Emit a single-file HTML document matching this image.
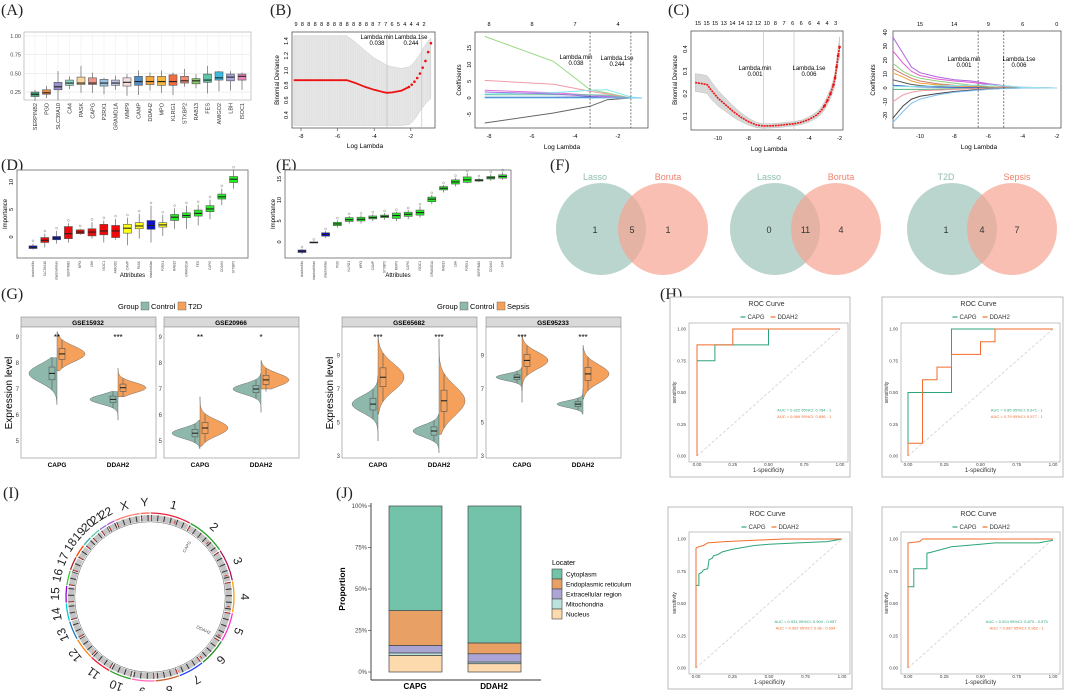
<!DOCTYPE html>
<html><head><meta charset="utf-8">
<style>
html,body{margin:0;padding:0;background:#fff;}
svg{display:block;font-family:"Liberation Sans",sans-serif;}
.pl{font-family:"Liberation Serif",serif;font-size:16px;fill:#222;}
</style></head>
<body>
<svg id="fig" width="1065" height="691" viewBox="0 0 1065 691" xmlns="http://www.w3.org/2000/svg">
<text class="pl" x="1" y="15">(A)</text>
<text class="pl" x="270" y="15">(B)</text>
<text class="pl" x="668" y="15">(C)</text>
<text class="pl" x="1" y="170">(D)</text>
<text class="pl" x="276" y="170">(E)</text>
<text class="pl" x="550" y="170">(F)</text>
<text class="pl" x="1" y="299">(G)</text>
<text class="pl" x="660" y="299">(H)</text>
<text class="pl" x="3" y="498">(I)</text>
<text class="pl" x="336" y="498">(J)</text>
<g id="root"></g>
</svg>
<script>
// ---------- DATA ----------
const aGenes=["SERPINB2","PGD","SLC39A10","CA4","PASK","CAPG","P2RX1","GRAMD1A","MMP9","CAMP","DDAH2","MPO","KLRG1","STXBP2","RAB13","FES","AMIGO2","LBH","ISOC1"];
const aMed=[0.22,0.24,0.32,0.37,0.37,0.37,0.37,0.37,0.38,0.39,0.39,0.39,0.39,0.40,0.40,0.41,0.44,0.45,0.46];
const aQ1=[0.19,0.22,0.28,0.34,0.35,0.35,0.33,0.34,0.33,0.34,0.35,0.34,0.34,0.37,0.36,0.38,0.41,0.40,0.41];
const aQ3=[0.25,0.28,0.38,0.41,0.45,0.44,0.42,0.41,0.44,0.46,0.46,0.46,0.48,0.46,0.43,0.49,0.52,0.49,0.49];
const aLo=[0.13,0.17,0.14,0.29,0.24,0.24,0.22,0.28,0.2,0.21,0.27,0.24,0.21,0.32,0.3,0.23,0.26,0.27,0.28];
const aHi=[0.28,0.33,0.53,0.46,0.6,0.51,0.44,0.47,0.49,0.54,0.51,0.54,0.51,0.56,0.49,0.6,0.53,0.53,0.51];
const aCol=["#4aa57f","#ee8a3a","#9b8fcf","#8fd6c4","#fdd49c","#f49488","#9cc4e2","#c3c2e4","#f6dede","#4f8fc9","#f5a43a","#f3b640","#f06c3e","#ef8a76","#8cc665","#5ec5a8","#3bbbe0","#a8a5dc","#e888b8"];

const b1Lam=[-8.4,-7.5,-6.5,-5.5,-5,-4.5,-4,-3.5,-3.3,-3,-2.5,-2.1,-1.95,-1.8,-1.65,-1.5,-1.35,-1.2,-1.05,-0.9];
const b1Dev=[0.87,0.87,0.87,0.87,0.83,0.78,0.74,0.71,0.70,0.705,0.73,0.78,0.81,0.85,0.90,0.96,1.04,1.13,1.25,1.37];
const b1Up=[1.47,1.47,1.47,1.47,1.38,1.27,1.17,1.1,1.07,1.05,1.03,1.05,1.08,1.12,1.17,1.22,1.29,1.35,1.40,1.44];
const b1Lo=[0.26,0.26,0.26,0.26,0.26,0.26,0.26,0.26,0.26,0.26,0.26,0.27,0.30,0.34,0.39,0.45,0.50,0.55,0.59,0.62];
const b1Top=["9","8","8","8","8","8","8","8","8","8","8","8","8","7","7","6","5","4","4","4","2"];

const b2Lam=[-8.2,-5,-3.3,-2.5,-1.4,-0.9];
const b2Vals=[[18.5,11,2.5,1.5,0,0],[5.3,4.1,2.0,1.2,0,0],[2.3,1.6,0.9,0.5,0,0],[1.2,1.6,2.3,2.5,0.3,0],[1.0,1.0,1.0,0.8,0,0],[0.2,0.2,0.3,0.2,0,0],[1.8,1.2,0.5,0.3,0,0],[-7.5,-4.5,-2.5,-0.5,0,0],[0,0,0,0,0,0]];
const b2Col=["#96d882","#f29aa8","#e070d8","#80e8e8","#6ac6a8","#3060c0","#a070e0","#666666","#80c8f0"];
const b2Top=["8","8","7","4"];

const c1Lam=[-11.5,-11,-10.7,-10.5,-10,-9.5,-9,-8.5,-8,-7.5,-7,-6.5,-6,-5.5,-5,-4.5,-4,-3.5,-3.2,-3,-2.8,-2.6,-2.4,-2.3,-2.2,-2.1,-2];
const c1Dev=[0.25,0.245,0.24,0.22,0.18,0.15,0.12,0.095,0.075,0.06,0.055,0.056,0.058,0.062,0.065,0.072,0.085,0.105,0.125,0.145,0.17,0.2,0.24,0.27,0.32,0.37,0.41];
const c1Err=[0.04,0.04,0.04,0.04,0.035,0.03,0.025,0.02,0.016,0.012,0.01,0.01,0.01,0.01,0.01,0.01,0.012,0.014,0.016,0.018,0.02,0.022,0.025,0.028,0.03,0.035,0.045];
const c1Top=["15","15","15","13","14","14","12","12","10","8","7","6","6","6","4","4","3"];

const c2Lam=[-11.6,-11,-10.5,-10,-9,-8,-7,-6,-5,-4,-2];
const c2Vals=[[37,25,15,11,8,6,5,3,1.5,0.5,0],[27,18,12,9,6.5,5,4,2.5,1,0.3,0],[18,12,9,7,5,3.5,2,1,0.4,0.1,0],[14,10,7,5,3,2,1.2,0.5,0.2,0,0],[11,8,5,3.5,2.3,1.5,0.8,0.3,0,0,0],[6,4,2.5,1.8,1,0.5,0.2,0,0,0,0],[2,1.5,1,0.8,0.6,0.4,0.3,0.1,0,0,0],[-1,-1,-1,-1,-0.8,-0.6,-0.4,-0.2,0,0,0],[-10,-5,-3,-2,-1.5,-1,-0.6,-0.3,0,0,0],[-22,-13,-8,-6,-4,-2.5,-1.5,-0.7,-0.2,0,0],[-25,-17,-11,-8,-5,-3,-2,-1,-0.3,0,0],[1,1,1,1.2,1.5,1.8,2,2.2,1.5,0.5,0]];
const c2Col=["#b060e0","#e060d0","#90d080","#c8806a","#f0a040","#555555","#4070d0","#50b070","#f098a0","#444444","#80c0f0","#90e8e8"];
const c2Top=["15","14","9","6","0"];

const dMed=[-1.9,-0.6,-0.2,0.6,0.9,0.9,1.1,1.1,1.6,2.0,2.1,2.2,3.6,3.9,4.3,5.1,7.3,10.5];
const dQ1=[-2.1,-1.0,-0.5,-0.3,0.6,0.2,0.4,-0.1,0.7,1.5,1.4,1.8,3.0,3.5,3.8,4.6,6.9,9.9];
const dQ3=[-1.6,-0.1,0.1,1.9,1.3,1.5,2.3,2.1,2.3,2.6,3.0,2.6,4.1,4.4,4.9,5.7,7.8,11.0];
const dLo=[-2.3,-1.9,-1.2,-1.0,0.4,-0.3,-1.0,-0.5,-1.5,-0.3,-1.0,0.2,1.5,1.5,2.1,3.2,5.8,8.8];
const dHi=[-1.2,0.6,1.1,2.5,1.5,2.7,3.0,3.3,3.5,4.2,5.7,4.0,5.2,5.7,5.9,6.8,8.8,12.2];
const dCol=["#0a10d0","#ee0a0a","#0a10d0","#ee0a0a","#ee0a0a","#ee0a0a","#ee0a0a","#ee0a0a","#ffff1a","#ffff1a","#0a10d0","#ffff1a","#22ee22","#22ee22","#22ee22","#22ee22","#22ee22","#22ee22"];
const dNames=["shadowMin","SLC39A10","shadowMean","SERPINB2","MPO","LBH","ISOC1","AMIGO2","CAMP","PASK","shadowMax","P2RX1","RAB13","GRAMD1A","FES","CAPG","DDAH2","STXBP2"];

const eMed=[-2.2,-0.1,1.8,4.3,5.3,5.4,5.8,6.1,6.3,6.6,7.0,10.2,12.8,14.3,14.8,14.7,15.3,15.6];
const eQ1=[-2.5,-0.2,1.4,3.9,4.9,5.0,5.5,5.8,5.6,6.1,6.4,9.6,12.4,13.8,14.2,14.5,15.0,15.2];
const eQ3=[-1.9,0.0,2.2,4.7,5.8,5.9,6.2,6.4,6.9,7.1,7.6,10.7,13.2,14.8,15.5,14.9,15.6,16.0];
const eLo=[-2.9,-0.3,1.0,3.4,4.4,4.4,5.0,5.3,5.0,5.4,5.8,9.0,11.8,13.2,14.0,14.3,14.6,14.8];
const eHi=[-1.7,0.1,2.6,5.2,6.2,6.3,6.6,6.9,7.2,7.6,8.5,11.2,13.6,15.3,16.4,15.2,16.2,16.6];
const eCol=["#0a10d0","#000000","#0a10d0","#22ee22","#22ee22","#22ee22","#22ee22","#22ee22","#22ee22","#22ee22","#22ee22","#22ee22","#22ee22","#22ee22","#22ee22","#22ee22","#22ee22","#22ee22"];
const eNames=["shadowMin","shadowMean","shadowMax","PGD","KLRG1","MPO","CAMP","STXBP2","MMP9","CAPG","ISOC1","GRAMD1A","RAB13","LBH","P2RX1","SERPINB2","DDAH2","CA4"];

const fSets=[["Lasso","Boruta"],["Lasso","Boruta"],["T2D","Sepsis"]];
const fLeft=[1,0,1];
const fBoth=[5,11,4];
const fRight=[1,4,7];

const gFacets=["GSE15932","GSE20966","GSE65682","GSE95233"];
const gGenes=["CAPG","DDAH2"];
const gStars=[["**","***"],["**","*"],["***","***"],["***","***"]];
const gCtrlMed=[7.6,6.6,5.3,7.0,6.1,4.5,7.7,6.1];
const gCtrlLo=[6.4,5.8,4.7,6.1,3.9,3.2,6.9,5.5];
const gCtrlHi=[8.2,6.9,5.8,7.6,7.8,5.5,8.3,7.0];
const gCtrlSd=[0.35,0.18,0.2,0.2,0.5,0.35,0.2,0.2];
const gCaseMed=[8.35,7.05,5.5,7.35,7.7,6.3,8.7,7.9];
const gCaseLo=[7.7,6.7,4.8,7.0,5.5,4.3,6.2,6.4];
const gCaseHi=[9.2,7.8,6.7,8.1,10.1,10.0,10.2,9.6];
const gCaseSd=[0.3,0.2,0.3,0.25,0.8,0.9,0.5,0.55];

const rocCapgF=[[0,0,0.125,0.125,0.5,0.5,1],[0,0,0.3,0.3,1],[0,0,0.02,0.02,0.04,0.05,0.08,0.09,0.11,0.12,0.15,0.18,0.25,0.3,0.4,0.5,0.7,0.9,1],[0,0,0.04,0.04,0.13,0.13,0.17,0.2,0.27,0.3,0.4,0.5,0.6,0.9,1]];
const rocCapgT=[[0,0.75,0.75,0.875,0.875,1,1],[0,0.5,0.5,1,1],[0,0.64,0.64,0.73,0.74,0.76,0.77,0.84,0.85,0.87,0.88,0.9,0.92,0.93,0.95,0.96,0.97,0.98,1],[0,0.63,0.63,0.77,0.77,0.89,0.9,0.91,0.93,0.94,0.95,0.96,0.97,0.97,0.99]];
const rocDdahF=[[0,0,0.25,0.25,1],[0,0,0.1,0.1,0.2,0.2,0.3,0.3,0.5,0.5,0.6,0.6,1],[0,0,0.02,0.05,0.08,0.2,0.4,0.6,1],[0,0,0.08,0.1,1]];
const rocDdahT=[[0,0.875,0.875,1,1],[0,0.1,0.1,0.6,0.6,0.7,0.7,0.8,0.8,0.9,0.9,1,1],[0,0.93,0.94,0.95,0.97,0.98,0.99,1,1],[0,0.97,0.98,1,1]];
const rocAucCapg=["AUC = 0.922 95%CI: 0.784 - 1","AUC = 0.85 95%CI: 0.671 - 1","AUC = 0.931 95%CI: 0.904 - 0.957","AUC = 0.924 95%CI: 0.873 - 0.975"];
const rocAucDdah=["AUC = 0.969 95%CI: 0.896 - 1","AUC = 0.79 95%CI: 0.577 - 1","AUC = 0.987 95%CI: 0.98 - 0.994","AUC = 0.987 95%CI: 0.962 - 1"];

const jBars=["CAPG","DDAH2"];
const jCats=["Nucleus","Mitochondria","Extracellular region","Endoplasmic reticulum","Cytoplasm"];
const jCapg=[10,1.5,4.5,21,63];
const jDdah=[5,1,5,6.5,82.5];
const jCol=["#fdd9ae","#b9e3dc","#aba5d6","#e8a064","#72c3a9"];

const chrNames=["1","2","3","4","5","6","7","8","9","10","11","12","13","14","15","16","17","18","19","20","21","22","X","Y"];
const chrSize=[249,243,198,191,181,171,159,146,141,136,135,133,115,107,102,90,83,80,59,64,47,51,155,57];

// ---------- HELPERS ----------
const NS="http://www.w3.org/2000/svg";
const root=document.getElementById('root');
function mk(tag,at,par){const e=document.createElementNS(NS,tag);for(const k in at)e.setAttribute(k,at[k]);(par||root).appendChild(e);return e;}
function tx(x,y,s,at,par){const e=mk('text',Object.assign({x:x,y:y},at||{}),par);e.textContent=s;return e;}
function pts(xs,ys){return xs.map((v,i)=>v.toFixed(1)+','+ys[i].toFixed(1)).join(' ');}
function boxplot(cx,w,q1,med,q3,lo,hi,fill,ys,name){
  const g=mk('g',{});
  
  
  mk('line',{x1:cx,x2:cx,y1:ys(hi),y2:ys(lo),stroke:'#666','stroke-width':0.7},g);
  mk('rect',{x:cx-w/2,y:ys(q3),width:w,height:Math.max(1,ys(q1)-ys(q3)),fill:fill,stroke:'#555','stroke-width':0.6},g);
  mk('line',{x1:cx-w/2,x2:cx+w/2,y1:ys(med),y2:ys(med),stroke:'#222','stroke-width':1.1},g);
  return g;
}

// ---------- PANEL A ----------
(function(){
  const yA=v=>36+(1-v)*74.7;
  const xA=i=>35+i*11.5;
  const fr=mk('rect',{x:24,y:32,width:227,height:68,fill:'#fff',stroke:'#bbb','stroke-width':0.8});
  
  
  [1,0.75,0.5,0.25].forEach(v=>{mk('line',{x1:24,x2:251,y1:yA(v),y2:yA(v),stroke:'#e6e6e6','stroke-width':0.6});
    const t=tx(21,yA(v)+2,v.toFixed(2),{'font-size':5.5,'text-anchor':'end',fill:'#444'});
    
    });
  aGenes.forEach((g,i)=>{
    mk('line',{x1:xA(i),x2:xA(i),y1:32,y2:100,stroke:'#eeeeee','stroke-width':0.6});
    boxplot(xA(i),8,aQ1[i],aMed[i],aQ3[i],aLo[i],aHi[i],aCol[i],yA,'a-box-'+g.toLowerCase());
    const t=tx(0,0,g,{'font-size':5.5,'text-anchor':'end',fill:'#333',transform:`translate(${xA(i)+2},103) rotate(-90)`});
    
    
  });
})();

// ---------- PANEL B1 ----------
(function(){
  const X=l=>301+(l+8)*18.3, Y=v=>41+(1.4-v)*74;
  const fr=mk('rect',{x:292,y:32,width:143,height:96,fill:'#fff',stroke:'#555','stroke-width':0.8});
  
  
  const band=mk('polygon',{points:pts(b1Lam.map(X).concat(b1Lam.map(X).reverse()),b1Up.map(Y).concat(b1Lo.map(Y).reverse())),fill:'#e2e2e2',stroke:'#c8c8c8','stroke-width':0.5});
  
  
  for(let x=297;x<432;x+=2.2) mk('line',{x1:x,x2:x,y1:36,y2:124,stroke:'#fff','stroke-width':0.5,opacity:0.35});
  mk('line',{x1:X(-3.3),x2:X(-3.3),y1:32,y2:128,stroke:'#bbb','stroke-width':0.6});
  mk('line',{x1:X(-1.4),x2:X(-1.4),y1:32,y2:128,stroke:'#bbb','stroke-width':0.6});
  const ln=mk('polyline',{points:pts(b1Lam.slice(0,12).map(X),b1Dev.slice(0,12).map(Y)),fill:'none',stroke:'#ee1111','stroke-width':1.8});
  
  
  b1Lam.forEach((l,i)=>{if(l>-2.2){const c=mk('circle',{cx:X(l),cy:Y(b1Dev[i]),r:1.3,fill:'#ee1111'});
    
    }});
  tx(377,39,'Lambda.min',{'font-size':6,'text-anchor':'middle'});tx(377,45,'0.038',{'font-size':6,'text-anchor':'middle'});
  tx(411,39,'Lambda.1se',{'font-size':6,'text-anchor':'middle'});tx(411,45,'0.244',{'font-size':6,'text-anchor':'middle'});
  b1Top.forEach((s,i)=>tx(296+i*6.4,26,s,{'font-size':5.5,'text-anchor':'middle'}));
  [-8,-6,-4,-2].forEach(v=>{mk('line',{x1:X(v),x2:X(v),y1:128,y2:131,stroke:'#444','stroke-width':0.6});tx(X(v),138,String(v),{'font-size':5.5,'text-anchor':'middle'});});
  [0.4,0.6,0.8,1.0,1.2,1.4].forEach(v=>tx(0,0,v.toFixed(1),{'font-size':5.5,'text-anchor':'middle',transform:`translate(288,${Y(v)}) rotate(-90)`}));
  tx(365,148,'Log Lambda',{'font-size':6.5,'text-anchor':'middle'});
  tx(0,0,'Binomial Deviance',{'font-size':6,'text-anchor':'middle',transform:'translate(279,80) rotate(-90)'});
})();

// ---------- PANEL B2 ----------
(function(){
  const X=l=>489+(l+8)*21.5, Y=v=>98-v*3.33;
  const fr=mk('rect',{x:475,y:32,width:173,height:96,fill:'#fff',stroke:'#555','stroke-width':0.8});
  
  
  b2Vals.forEach((s,i)=>{const p=mk('polyline',{points:pts(b2Lam.map(X),s.map(Y)),fill:'none',stroke:b2Col[i],'stroke-width':1});
    
    });
  [-3.3,-1.4].forEach(l=>mk('line',{x1:X(l),x2:X(l),y1:32,y2:128,stroke:'#444','stroke-width':0.7,'stroke-dasharray':'2,1.5'}));
  tx(576,59,'Lambda.min',{'font-size':6,'text-anchor':'middle'});tx(576,65,'0.038',{'font-size':6,'text-anchor':'middle'});
  tx(617,60,'Lambda.1se',{'font-size':6,'text-anchor':'middle'});tx(617,66,'0.244',{'font-size':6,'text-anchor':'middle'});
  b2Top.forEach((s,i)=>tx(X(-8+2*i),26,s,{'font-size':5.5,'text-anchor':'middle'}));
  [-8,-6,-4,-2].forEach(v=>tx(X(v),138,String(v),{'font-size':5.5,'text-anchor':'middle'}));
  [15,10,5,0,-5].forEach(v=>tx(0,0,String(v),{'font-size':5.5,'text-anchor':'middle',transform:`translate(471,${Y(v)}) rotate(-90)`}));
  tx(562,149,'Log Lambda',{'font-size':6.5,'text-anchor':'middle'});
  tx(0,0,'Coefficients',{'font-size':6,'text-anchor':'middle',transform:'translate(461,80) rotate(-90)'});
})();

// ---------- PANEL C1 ----------
(function(){
  const X=l=>718+(l+10)*15.2, Y=v=>116-(v-0.1)*223;
  const fr=mk('rect',{x:691,y:31,width:152,height:99,fill:'#fff',stroke:'#555','stroke-width':0.8});
  
  
  const band=mk('polygon',{points:pts(c1Lam.map(X).concat(c1Lam.map(X).reverse()),c1Dev.map((d,i)=>Y(d+c1Err[i])).concat(c1Dev.map((d,i)=>Y(d-c1Err[i])).reverse())),fill:'#d8d8d8',stroke:'#c0c0c0','stroke-width':0.5});
  
  
  [-7,-5].forEach(l=>mk('line',{x1:X(l),x2:X(l),y1:31,y2:130,stroke:'#bbb','stroke-width':0.6}));
  const ln=mk('polyline',{points:pts(c1Lam.map(X),c1Dev.map(Y)),fill:'none',stroke:'#ee1111','stroke-width':1.6,'stroke-dasharray':'2,0.8'});
  
  
  c1Lam.forEach((l,i)=>{if(l>-3.2){const c=mk('circle',{cx:X(l),cy:Y(c1Dev[i]),r:1.3,fill:'#ee1111'});
    
    }});
  tx(755,70,'Lambda.min',{'font-size':6,'text-anchor':'middle'});tx(755,76,'0.001',{'font-size':6,'text-anchor':'middle'});
  tx(809,70,'Lambda.1se',{'font-size':6,'text-anchor':'middle'});tx(809,76,'0.006',{'font-size':6,'text-anchor':'middle'});
  c1Top.forEach((s,i)=>tx(698+i*8.6,25,s,{'font-size':5.5,'text-anchor':'middle'}));
  [-10,-8,-6,-4,-2].forEach(v=>tx(X(v),140,String(v),{'font-size':5.5,'text-anchor':'middle'}));
  [0.1,0.2,0.3,0.4].forEach(v=>tx(0,0,v.toFixed(1),{'font-size':5.5,'text-anchor':'middle',transform:`translate(687,${Y(v)}) rotate(-90)`}));
  tx(769,151,'Log Lambda',{'font-size':6.5,'text-anchor':'middle'});
  tx(0,0,'Binomial Deviance',{'font-size':6,'text-anchor':'middle',transform:'translate(677,80) rotate(-90)'});
})();

// ---------- PANEL C2 ----------
(function(){
  const X=l=>920+(l+10)*17.1, Y=v=>88-v*1.39;
  const fr=mk('rect',{x:893,y:31,width:168,height:97,fill:'#fff',stroke:'#555','stroke-width':0.8});
  
  
  c2Vals.forEach((s,i)=>{const p=mk('polyline',{points:pts(c2Lam.map(X),s.map(Y)),fill:'none',stroke:c2Col[i],'stroke-width':1});
    
    });
  [-6.6,-5.1].forEach(l=>mk('line',{x1:X(l),x2:X(l),y1:31,y2:128,stroke:'#444','stroke-width':0.7,'stroke-dasharray':'2,1.5'}));
  tx(964,61,'Lambda.min',{'font-size':6,'text-anchor':'middle'});tx(964,67,'0.001',{'font-size':6,'text-anchor':'middle'});
  tx(1019,61,'Lambda.1se',{'font-size':6,'text-anchor':'middle'});tx(1019,67,'0.006',{'font-size':6,'text-anchor':'middle'});
  c2Top.forEach((s,i)=>tx(X(-10+2*i),26,s,{'font-size':5.5,'text-anchor':'middle'}));
  [-10,-8,-6,-4,-2].forEach(v=>tx(X(v),138,String(v),{'font-size':5.5,'text-anchor':'middle'}));
  [40,30,20,10,0,-10,-20].forEach(v=>tx(0,0,String(v),{'font-size':5.5,'text-anchor':'middle',transform:`translate(887,${Y(v)}) rotate(-90)`}));
  tx(979,149,'Log Lambda',{'font-size':6.5,'text-anchor':'middle'});
  tx(0,0,'Coefficients',{'font-size':6,'text-anchor':'middle',transform:'translate(875,80) rotate(-90)'});
})();

// ---------- PANELS D/E ----------
function boruta(prefix,x0,w,ys,ticks,med,q1,q3,lo,hi,col,names,cx0){
  const fr=mk('rect',{x:x0,y:170,width:w,height:88,fill:'#fff',stroke:'#666','stroke-width':0.8});
  
  
  ticks.forEach(v=>tx(0,0,String(v),{'font-size':5.5,'text-anchor':'middle',transform:`translate(${x0-4},${ys(v)}) rotate(-90)`}));
  med.forEach((m,i)=>{const cx=cx0+i*11.8;
    boxplot(cx,8,q1[i],m,q3[i],lo[i],hi[i],col[i],ys,prefix+'-box-'+names[i].toLowerCase());
    mk('circle',{cx:cx,cy:ys(hi[i]+0.5),r:1,fill:'none',stroke:'#777','stroke-width':0.4});
    tx(0,0,names[i],{'font-size':3.2,'text-anchor':'end',fill:'#444',transform:`translate(${cx+1},261) rotate(-90)`});});
  tx(x0+w/2,277,'Attributes',{'font-size':6,'text-anchor':'middle'});
  tx(0,0,'Importance',{'font-size':6,'text-anchor':'middle',transform:`translate(${x0-10},214) rotate(-90)`});
}
boruta('d',17,231,v=>237-v*5.5,[0,5,10],dMed,dQ1,dQ3,dLo,dHi,dCol,dNames,33);
boruta('e',285,226,v=>242-v*4.2,[0,5,10,15],eMed,eQ1,eQ3,eLo,eHi,eCol,eNames,302);

// ---------- PANEL F ----------
(function(){
  const cxL=[601,775,952], cxR=[663,836,1012];
  fSets.forEach((s,i)=>{
    const l=cxL[i], r=cxR[i];
    const e1=mk('ellipse',{cx:l,cy:229,rx:45,ry:46,fill:'#a3c7be',opacity:0.75});
    
    
    const e2=mk('ellipse',{cx:r,cy:229,rx:45,ry:46,fill:'#f7a493',opacity:0.7});
    
    
    tx(l-6,180,s[0],{'font-size':9,'text-anchor':'middle',fill:'#8fbcb0'});
    tx(r+5,180,s[1],{'font-size':9,'text-anchor':'middle',fill:'#f07f6a'});
    tx(l-6,233,String(fLeft[i]),{'font-size':9,'text-anchor':'middle',fill:'#333'});
    tx((l+r)/2,233,String(fBoth[i]),{'font-size':9,'text-anchor':'middle',fill:'#333'});
    tx(r+5,233,String(fRight[i]),{'font-size':9,'text-anchor':'middle',fill:'#333'});
  });
})();

// ---------- PANEL G ----------
(function(){
  const yT=v=>389-(v-7)*26, yS=v=>389-(v-7)*16.8;
  const fx=[21,164,342,486];
  function legend(x,caseName){
    tx(x,309,'Group',{'font-size':7.5});
    mk('rect',{x:x+23,y:302,width:8,height:8,fill:'#8fb8ad',stroke:'#555','stroke-width':0.4});
    tx(x+33,309,'Control',{'font-size':7.5});
    mk('rect',{x:x+60,y:302,width:8,height:8,fill:'#f5a15b',stroke:'#555','stroke-width':0.4});
    tx(x+70,309,caseName,{'font-size':7.5});
  }
  legend(118,'T2D');legend(437,'Sepsis');
  function half(cx,side,med,lo,hi,sd,wmax,ys,fill){
    const L=[];
    const n=40;
    for(let k=0;k<=n;k++){const v=lo+(hi-lo)*k/n;const w=wmax*Math.exp(-(v-med)*(v-med)/(2*sd*sd));L.push([cx+side*w,ys(v)]);}
    const d='M'+cx+','+ys(lo)+' '+L.map(p=>'L'+p[0].toFixed(1)+','+p[1].toFixed(1)).join(' ')+' L'+cx+','+ys(hi)+' Z';
    return mk('path',{d:d,fill:fill,stroke:'#555','stroke-width':0.4});
  }
  gFacets.forEach((f,fi)=>{
    const x=fx[fi], ys=fi<2?yT:yS;
    const st=mk('rect',{x:x,y:317,width:135,height:10,fill:'#d9d9d9',stroke:'#777','stroke-width':0.5});
    
    
    tx(x+67,325,f,{'font-size':6.5,'text-anchor':'middle','font-weight':'bold'});
    const pf=mk('rect',{x:x,y:327,width:135,height:131,fill:'#fff',stroke:'#999','stroke-width':0.7});
    
    
    const ticks=fi<2?[5,6,7,8,9]:[3,5,7,9];
    ticks.forEach(v=>tx(x-2,ys(v)+2,String(v),{'font-size':6,'text-anchor':'end',fill:'#444'}));
    gGenes.forEach((g,gi)=>{
      const k=fi*2+gi, cx=x+36+gi*61;
      const wmax=fi<2?28:26;
      const v1=half(cx,-1,gCtrlMed[k],gCtrlLo[k],gCtrlHi[k],gCtrlSd[k],wmax,ys,'#8fb8ad');
      
      
      const v2=half(cx,1,gCaseMed[k],gCaseLo[k],gCaseHi[k],gCaseSd[k],wmax,ys,'#f5a15b');
      
      
      boxplot(cx-5,6,gCtrlMed[k]-gCtrlSd[k]*0.7,gCtrlMed[k],gCtrlMed[k]+gCtrlSd[k]*0.7,gCtrlMed[k]-gCtrlSd[k]*1.8,gCtrlMed[k]+gCtrlSd[k]*1.8,'#8fb8ad',ys,'box-control');
      boxplot(cx+5,6,gCaseMed[k]-gCaseSd[k]*0.7,gCaseMed[k],gCaseMed[k]+gCaseSd[k]*0.7,gCaseMed[k]-gCaseSd[k]*1.8,gCaseMed[k]+gCaseSd[k]*1.8,'#f5a15b',ys,'box-case');
      tx(cx,340,gStars[fi][gi],{'font-size':8,'text-anchor':'middle'});
      tx(cx,467,g,{'font-size':6.5,'text-anchor':'middle','font-weight':'bold'});
    });
  });
  tx(0,0,'Expression level',{'font-size':10,'text-anchor':'middle',transform:'translate(12,393) rotate(-90)'});
  tx(0,0,'Expression level',{'font-size':10,'text-anchor':'middle',transform:'translate(333,393) rotate(-90)'});
})();

// ---------- PANEL H ----------
(function(){
  const panels=[{bx:670,by:297,bw:180,bh:180,x0:697,x1:840,y1:329,y0:456,pl:689,pt:323,pr:848,pb:462},
                {bx:882,by:297,bw:181,bh:180,x0:908,x1:1053,y1:329,y0:456,pl:901,pt:323,pr:1060,pb:462},
                {bx:668,by:507,bw:184,bh:182,x0:696,x1:842,y1:539,y0:668,pl:689,pt:532,pr:850,pb:674},
                {bx:882,by:507,bw:181,bh:182,x0:908,x1:1053,y1:539,y0:668,pl:901,pt:532,pr:1060,pb:674}];
  panels.forEach((p,i)=>{
    const X=v=>p.x0+v*(p.x1-p.x0), Y=v=>p.y0-v*(p.y0-p.y1);
    const bx=mk('rect',{x:p.bx,y:p.by,width:p.bw,height:p.bh,fill:'#fff',stroke:'#bbb','stroke-width':1});
    
    
    mk('rect',{x:p.pl,y:p.pt,width:p.pr-p.pl,height:p.pb-p.pt,fill:'none',stroke:'#aaa','stroke-width':0.7});
    const cx=(p.pl+p.pr)/2;
    tx(cx-2,p.by+9,'ROC Curve',{'font-size':7,'text-anchor':'middle',fill:'#333'});
    mk('line',{x1:cx-28,x2:cx-23,y1:p.by+20,y2:p.by+20,stroke:'#2ca57a','stroke-width':1.2});
    tx(cx-21,p.by+22,'CAPG',{'font-size':6,fill:'#333'});
    mk('line',{x1:cx+2,x2:cx+7,y1:p.by+20,y2:p.by+20,stroke:'#f26d2d','stroke-width':1.2});
    tx(cx+9,p.by+22,'DDAH2',{'font-size':6,fill:'#333'});
    mk('line',{x1:X(0),y1:Y(0),x2:X(1),y2:Y(1),stroke:'#d0d0d0','stroke-width':0.8,'stroke-dasharray':'3,2'});
    [0,0.25,0.5,0.75,1].forEach(v=>{
      tx(p.pl-3,Y(v)+1.5,v.toFixed(2),{'font-size':4.5,'text-anchor':'end',fill:'#444'});
      tx(X(v),p.pb+4,v.toFixed(2),{'font-size':4.5,'text-anchor':'middle',fill:'#444'});});
    tx(cx,p.pb+10,'1-specificity',{'font-size':6,'text-anchor':'middle',fill:'#333'});
    tx(0,0,'sensitivity',{'font-size':5,'text-anchor':'middle',fill:'#333',transform:`translate(${p.pl-13},${(p.pt+p.pb)/2}) rotate(-90)`});
    const c1=mk('polyline',{points:pts(rocCapgF[i].map(X),rocCapgT[i].map(Y)),fill:'none',stroke:'#2ca57a','stroke-width':1});
    
    
    const c2=mk('polyline',{points:pts(rocDdahF[i].map(X),rocDdahT[i].map(Y)),fill:'none',stroke:'#f26d2d','stroke-width':1});
    
    
    tx(X(0.75),Y(0.35),rocAucCapg[i],{'font-size':4,'text-anchor':'middle',fill:'#2ca57a'});
    tx(X(0.75),Y(0.30),rocAucDdah[i],{'font-size':4,'text-anchor':'middle',fill:'#f26d2d'});
  });
})();

// ---------- PANEL I ----------
(function(){
  const cx=150, cy=597, rx=84, ry=84;
  const total=chrSize.reduce((a,b)=>a+b,0);
  const gap=0.012, avail=2*Math.PI-gap*chrSize.length;
  const arcCol=["#e8203a","#2ca02c","#b0105a","#ff9f00","#ff33cc","#228b22","#2040ff","#c86432","#ff69b4","#2ca02c","#e8203a","#ff7f0e","#1f77b4","#00ced1","#9400d3","#32cd32","#b22222","#ff4500","#20b2aa","#66cdaa","#9370db","#ba55d3","#fa8072","#ff6347"];
  let a=-Math.PI/2+0.01;
  const P=(ang,k)=>[cx+rx*k*Math.cos(ang),cy+ry*k*Math.sin(ang)];
  chrSize.forEach((s,i)=>{
    const da=avail*s/total;
    const a0=a,a1=a+da;
    const path=(k)=>{const p0=P(a0,k),p1=P(a1,k);return `M${p0[0].toFixed(1)},${p0[1].toFixed(1)} A${rx*k},${ry*k} 0 ${da>Math.PI?1:0} 1 ${p1[0].toFixed(1)},${p1[1].toFixed(1)}`;};
    const o=mk('path',{d:path(1.0),fill:'none',stroke:arcCol[i],'stroke-width':1.3});
    
    
    const b=mk('path',{d:path(0.94),fill:'none',stroke:'#c4c4c4','stroke-width':6});
    
    
    mk('path',{d:path(0.94),fill:'none',stroke:'#333','stroke-width':6,'stroke-dasharray':'1,5.5'});
    mk('path',{d:path(0.94),fill:'none',stroke:'#e03030','stroke-width':3,'stroke-dasharray':'1,23'});
    const mid=(a0+a1)/2, lp=P(mid,1.13);
    const lab=tx(lp[0],lp[1]+4,chrNames[i],{'font-size':12,'text-anchor':'middle',fill:'#222',transform:`rotate(${(mid*180/Math.PI+90).toFixed(1)},${lp[0].toFixed(1)},${lp[1].toFixed(1)})`});
    
    
    a=a1+gap;
  });
  mk('circle',{cx:cx,cy:cy,r:rx*0.895,fill:'none',stroke:'#555','stroke-width':0.5});
  tx(0,0,'CAPG',{'font-size':4.5,fill:'#555',transform:'translate(185,553) rotate(-60)'});
  tx(0,0,'DDAH2',{'font-size':4.5,fill:'#555',transform:'translate(196,628) rotate(25)'});
})();

// ---------- PANEL J ----------
(function(){
  const Y=p=>672-p*1.66;
  const bx=[389,468];
  mk('line',{x1:371,x2:371,y1:503,y2:680,stroke:'#333','stroke-width':0.9});
  mk('line',{x1:371,x2:541,y1:680,y2:680,stroke:'#333','stroke-width':0.9});
  [0,25,50,75,100].forEach(v=>{tx(367,Y(v)+2,v+'%',{'font-size':6,'text-anchor':'end',fill:'#444'});
    mk('line',{x1:368,x2:371,y1:Y(v),y2:Y(v),stroke:'#333','stroke-width':0.6});});
  [jCapg,jDdah].forEach((vals,b)=>{
    let acc=0;
    vals.forEach((v,k)=>{
      const r=mk('rect',{x:bx[b],y:Y(acc+v),width:53,height:v*1.66,fill:jCol[k],stroke:'#444','stroke-width':0.7});
      
      
      acc+=v;});
    tx(bx[b]+26,689,jBars[b],{'font-size':8,'text-anchor':'middle','font-weight':'bold'});
  });
  tx(0,0,'Proportion',{'font-size':8.5,'font-weight':'bold','text-anchor':'middle',transform:'translate(345,589) rotate(-90)'});
  tx(552,565,'Locater',{'font-size':7});
  const order=[4,3,2,1,0];
  order.forEach((k,i)=>{
    const r=mk('rect',{x:552,y:569+i*10,width:10,height:10,fill:jCol[k],stroke:'#444','stroke-width':0.6});
    
    
    tx(566,576.5+i*10,jCats[k],{'font-size':6.5});
  });
})();
</script>
</body></html>
